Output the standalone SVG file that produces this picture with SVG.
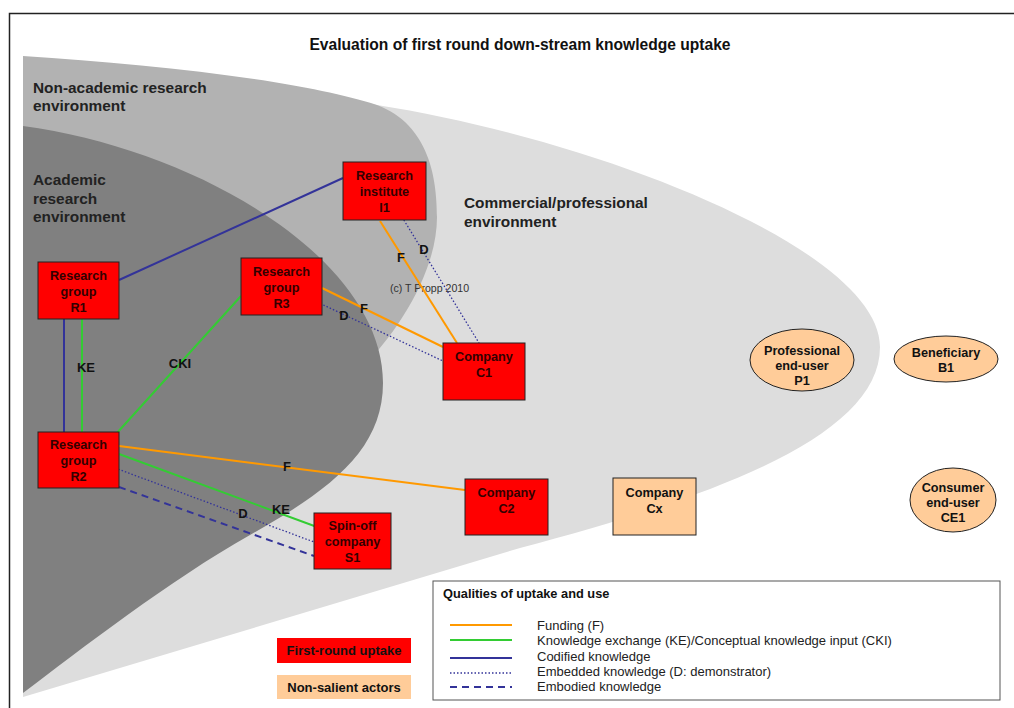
<svg xmlns="http://www.w3.org/2000/svg" width="1014" height="708" viewBox="0 0 1014 708">
<style>
text{font-family:"Liberation Sans",Arial,sans-serif}
.t{font-weight:bold;font-size:15.4px;fill:#222}
.n{font-weight:bold;font-size:12.7px;fill:#300;text-anchor:middle}
.o{font-weight:bold;font-size:12.7px;fill:#111;text-anchor:middle}
.l{font-weight:bold;font-size:13px;fill:#111;text-anchor:middle}
.red{fill:#ff0000;stroke:#222;stroke-width:1}
.sal{fill:#ffcc99;stroke:#222;stroke-width:1}
.F{stroke:#ff9900;stroke-width:2;fill:none}
.KE{stroke:#33cc33;stroke-width:2;fill:none}
.C{stroke:#333399;stroke-width:2;fill:none}
.D{stroke:#333399;stroke-width:1.3;stroke-dasharray:1.5 2;fill:none}
.E{stroke:#333399;stroke-width:2;stroke-dasharray:7 5;fill:none}
.lg{font-size:13px;fill:#222}
</style>
<rect x="0" y="0" width="1014" height="708" fill="#fff"/>
<rect x="9.5" y="13.5" width="1020" height="720" fill="none" stroke="#222" stroke-width="1.5"/>
<g id="environments">
<path d="M23,58 L377,105 C600,140 880,250 880,347 C880,435 720,495 520,548 L23,697 Z" fill="#dddddd"/>
<path d="M23,56 C150,64 300,80 377,105 C430,125 437,180 437,217 C437,270 400,330 360,370 C300,430 150,520 23,600 Z" fill="#b2b2b2"/>
<path d="M23,126 C200,150 383,260 383,383 C383,450 330,490 250,535 C170,580 80,650 23,693 Z" fill="#808080"/>
<text class="t" x="33" y="93">Non-academic research</text>
<text class="t" x="33" y="111">environment</text>
<text class="t" x="33" y="185">Academic</text>
<text class="t" x="33" y="204">research</text>
<text class="t" x="33" y="222">environment</text>
<text class="t" x="464" y="208">Commercial/professional</text>
<text class="t" x="464" y="227">environment</text>
</g>
<text x="520" y="50" text-anchor="middle" style="font-weight:bold;font-size:15.6px;fill:#111">Evaluation of first round down-stream knowledge uptake</text>
<text x="390" y="292" style="font-size:10.6px;fill:#333">(c) T Propp 2010</text>
<g id="connectors">
<line class="C" x1="119" y1="280" x2="343" y2="178"/>
<line class="C" x1="64" y1="319" x2="64" y2="432"/>
<line class="KE" x1="82" y1="319" x2="82" y2="432"/>
<line class="KE" x1="116" y1="434" x2="241" y2="296"/>
<line class="F" x1="322" y1="288" x2="443" y2="347"/>
<line class="D" x1="317" y1="302" x2="443" y2="361"/>
<line class="F" x1="380" y1="221" x2="457" y2="343"/>
<line class="D" x1="402" y1="217" x2="479" y2="343"/>
<line class="F" x1="119" y1="446" x2="465" y2="490"/>
<line class="KE" x1="119" y1="454" x2="317" y2="527"/>
<line class="D" x1="115" y1="468" x2="314" y2="542"/>
<line class="E" x1="119" y1="487" x2="314" y2="556"/>
<text class="l" x="86" y="372">KE</text>
<text class="l" x="180" y="368">CKI</text>
<text class="l" x="364" y="313">F</text>
<text class="l" x="344" y="320">D</text>
<text class="l" x="401" y="262">F</text>
<text class="l" x="424" y="254">D</text>
<text class="l" x="287" y="471">F</text>
<text class="l" x="281" y="514">KE</text>
<text class="l" x="243" y="518">D</text>
</g>
<g id="I1"><rect class="red" x="343" y="162" width="83" height="58"/><text class="n" x="384.5" y="180">Research</text><text class="n" x="384.5" y="196">institute</text><text class="n" x="384.5" y="212">I1</text></g>
<g id="R1"><rect class="red" x="38" y="262" width="81" height="57"/><text class="n" x="78.5" y="280">Research</text><text class="n" x="78.5" y="296">group</text><text class="n" x="78.5" y="312">R1</text></g>
<g id="R3"><rect class="red" x="241" y="258" width="81" height="57"/><text class="n" x="281.5" y="276">Research</text><text class="n" x="281.5" y="292">group</text><text class="n" x="281.5" y="308">R3</text></g>
<g id="R2"><rect class="red" x="38" y="432" width="81" height="56"/><text class="n" x="78.5" y="449">Research</text><text class="n" x="78.5" y="465">group</text><text class="n" x="78.5" y="481">R2</text></g>
<g id="S1"><rect class="red" x="314" y="513" width="77" height="56"/><text class="n" x="352.5" y="530">Spin-off</text><text class="n" x="352.5" y="546">company</text><text class="n" x="352.5" y="562">S1</text></g>
<g id="C1"><rect class="red" x="443" y="343" width="82" height="57"/><text class="n" x="484" y="361">Company</text><text class="n" x="484" y="377">C1</text></g>
<g id="C2"><rect class="red" x="465" y="479" width="83" height="56"/><text class="n" x="506.5" y="497">Company</text><text class="n" x="506.5" y="513">C2</text></g>
<g id="Cx"><rect class="sal" x="613" y="478" width="83" height="57"/><text class="o" x="654.5" y="497">Company</text><text class="o" x="654.5" y="513">Cx</text></g>
<g id="P1"><ellipse class="sal" cx="802" cy="360" rx="52" ry="31"/><text class="o" x="802" y="355">Professional</text><text class="o" x="802" y="370">end-user</text><text class="o" x="802" y="385">P1</text></g>
<g id="B1"><ellipse class="sal" cx="946" cy="359" rx="52" ry="23"/><text class="o" x="946" y="357">Beneficiary</text><text class="o" x="946" y="372">B1</text></g>
<g id="CE1"><ellipse class="sal" cx="953" cy="500" rx="43" ry="32"/><text class="o" x="953" y="492">Consumer</text><text class="o" x="953" y="507">end-user</text><text class="o" x="953" y="522">CE1</text></g>
<g id="legend-first"><rect x="277" y="638" width="134" height="25" fill="#ff0000"/><text class="o" x="344" y="655" style="font-size:13px">First-round uptake</text></g>
<g id="legend-nonsalient"><rect x="277" y="675" width="134" height="24" fill="#ffcc99"/><text class="o" x="344" y="692" style="font-size:13px">Non-salient actors</text></g>
<g id="legend">
<rect x="433" y="581" width="567" height="119" fill="#fff" stroke="#555" stroke-width="1"/>
<text x="443" y="598" style="font-weight:bold;font-size:12.8px;fill:#111">Qualities of uptake and use</text>
<line class="F" x1="450" y1="625" x2="512" y2="625"/>
<line class="KE" x1="450" y1="640" x2="512" y2="640"/>
<line class="C" x1="450" y1="658" x2="512" y2="658"/>
<line class="D" x1="450" y1="673" x2="512" y2="673"/>
<line class="E" x1="450" y1="687" x2="512" y2="687"/>
<text class="lg" x="537" y="630">Funding (F)</text>
<text class="lg" x="537" y="645">Knowledge exchange (KE)/Conceptual knowledge input (CKI)</text>
<text class="lg" x="537" y="661">Codified knowledge</text>
<text class="lg" x="537" y="676">Embedded knowledge (D: demonstrator)</text>
<text class="lg" x="537" y="691">Embodied knowledge</text>
</g>
</svg>
